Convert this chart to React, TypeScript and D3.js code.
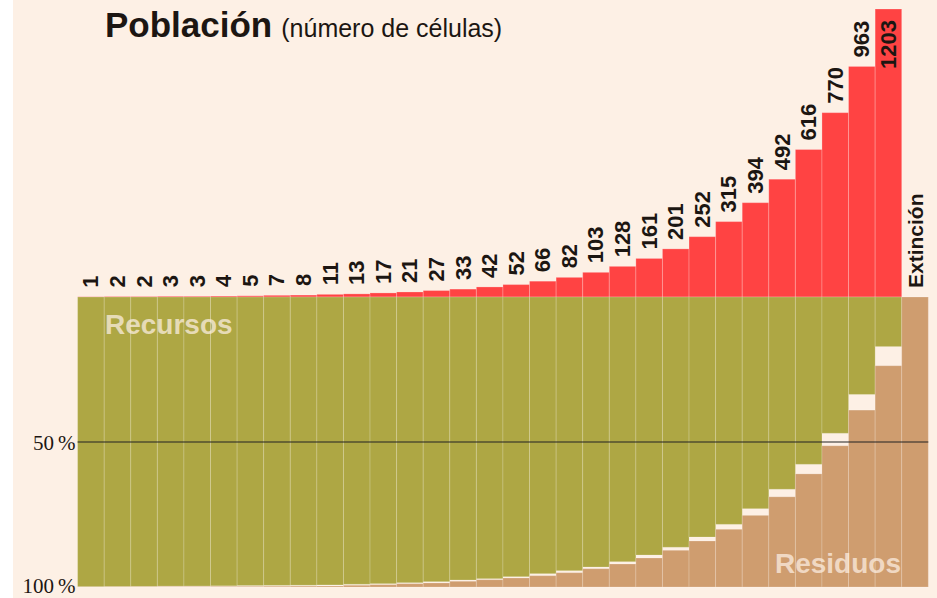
import React, { useEffect, useRef } from 'react';
import * as d3 from 'd3';

// population (number of cells) per step; last column is extinction
const population = [1, 2, 2, 3, 3, 4, 5, 7, 8, 11, 13, 17, 21, 27, 33, 42, 52, 66, 82, 103, 128, 161, 201, 252, 315, 394, 492, 616, 770, 963, 1203];
const extinctionLabel = 'Extinción';

// % of the medium still resources (from the top) and already residues (from the bottom)
const resources = [99.9, 99.85, 99.8, 99.7, 99.65, 99.6, 99.5, 99.45, 99.4, 99.3, 99.07, 98.86, 98.52, 98.17, 97.59, 97.14, 96.45, 95.41, 94.38, 93.1, 91.28, 88.97, 86.3, 82.76, 78.4, 73.0, 66.3, 57.7, 47.0, 33.6, 17.1, 0];
const residues = [0.05, 0.08, 0.1, 0.12, 0.15, 0.18, 0.2, 0.25, 0.3, 0.34, 0.59, 0.8, 1.14, 1.38, 1.97, 2.52, 3.1, 3.9, 4.93, 6.3, 7.93, 10.0, 12.66, 15.86, 19.9, 24.7, 31.1, 39.0, 48.7, 61.0, 76.3, 100];

const pctTicks = [50, 100];

export default function App() {
    const ref = useRef<SVGSVGElement>(null);

    const width = 937;
    const height = 598;
    const left = 77.6;
    const right = 928.3;
    const baseY = 297;
    const bottomY = 587;

    const bg = '#fdf0e5';
    const red = '#ff4343';
    const olive = '#aea744';
    const tan = '#cf9d6f';
    const ink = '#1c1612';
    const sans = '"Liberation Sans", Arial, sans-serif';
    const serif = '"Liberation Serif", "Times New Roman", serif';

    useEffect(() => {
        document.body.style.margin = '0';
        const svg = d3.select(ref.current);
        svg.selectAll('*').remove();

        const n = resources.length;
        const x = d3.scaleBand<number>()
            .domain(d3.range(n))
            .range([left, right])
            .padding(0);
        const yPop = d3.scaleLinear()
            .domain([0, d3.max(population) as number])
            .range([baseY, 9]);
        const yPct = d3.scaleLinear()
            .domain([0, 100])
            .range([baseY, bottomY]);

        svg.append('rect')
            .attr('x', 13).attr('y', 0)
            .attr('width', width - 13).attr('height', height)
            .attr('fill', bg);

        // population bars
        svg.append('g').selectAll('rect')
            .data(population)
            .enter().append('rect')
            .attr('x', (d, i) => x(i) as number)
            .attr('y', d => yPop(d))
            .attr('width', x.bandwidth())
            .attr('height', d => baseY - yPop(d))
            .attr('fill', red)
            .attr('stroke', 'rgba(255,255,255,0.22)')
            .attr('stroke-width', 1);

        // resources, from the top of the lower panel
        svg.append('g').selectAll('rect')
            .data(resources)
            .enter().append('rect')
            .attr('x', (d, i) => x(i) as number)
            .attr('y', baseY)
            .attr('width', x.bandwidth())
            .attr('height', d => yPct(d) - baseY)
            .attr('fill', olive)
            .attr('stroke', 'rgba(255,255,255,0.18)')
            .attr('stroke-width', 1);

        // residues, from the bottom
        svg.append('g').selectAll('rect')
            .data(residues)
            .enter().append('rect')
            .attr('x', (d, i) => x(i) as number)
            .attr('y', d => bottomY - (yPct(d) - baseY))
            .attr('width', x.bandwidth())
            .attr('height', d => yPct(d) - baseY)
            .attr('fill', tan)
            .attr('stroke', 'rgba(255,255,255,0.18)')
            .attr('stroke-width', 1);

        // 50% line
        svg.append('line')
            .attr('x1', left).attr('x2', right)
            .attr('y1', yPct(50)).attr('y2', yPct(50))
            .attr('stroke', '#222')
            .attr('stroke-width', 1.1);

        // percent labels
        svg.append('g').selectAll('text')
            .data(pctTicks)
            .enter().append('text')
            .attr('x', left - 2)
            .attr('y', d => Math.min(yPct(d) + 8, 593))
            .attr('text-anchor', 'end')
            .attr('font-family', serif)
            .attr('font-size', 21)
            .attr('fill', ink)
            .text(d => d + '\u2009%');

        // value labels over the bars
        const labels = svg.append('g');
        population.forEach((d, i) => {
            const cx = (x(i) as number) + x.bandwidth() / 2;
            const t = labels.append('text')
                .attr('font-family', sans)
                .attr('font-weight', 'bold')
                .attr('font-size', 22)
                .attr('fill', ink)
                .attr('dominant-baseline', 'central')
                .text(String(d));
            const len = (t.node() as SVGTextElement).getComputedTextLength();
            let start = yPop(d) - 9;
            if (start - len < 6) start = yPop(d) + 11 + len;
            t.attr('transform', 'translate(' + cx + ',' + start + ') rotate(-90)');
        });
        labels.append('text')
            .attr('font-family', sans)
            .attr('font-weight', 'bold')
            .attr('font-size', 21)
            .attr('fill', ink)
            .attr('dominant-baseline', 'central')
            .attr('transform', 'translate(' + ((x(n - 1) as number) + x.bandwidth() / 2) + ',' + (baseY - 9) + ') rotate(-90)')
            .text(extinctionLabel);

        // title
        const title = svg.append('text')
            .attr('x', 105)
            .attr('y', 37)
            .attr('font-family', sans)
            .attr('fill', ink);
        title.append('tspan')
            .attr('font-size', 35)
            .attr('font-weight', 'bold')
            .text('Población');
        title.append('tspan')
            .attr('font-size', 25)
            .attr('dx', 9)
            .text('(número de células)');

        // panel names
        svg.append('text')
            .attr('x', 105)
            .attr('y', 334)
            .attr('font-family', sans)
            .attr('font-weight', 'bold')
            .attr('font-size', 28)
            .attr('fill', bg)
            .attr('fill-opacity', 0.72)
            .text('Recursos');
        svg.append('text')
            .attr('x', 901)
            .attr('y', 573)
            .attr('text-anchor', 'end')
            .attr('font-family', sans)
            .attr('font-weight', 'bold')
            .attr('font-size', 28)
            .attr('fill', bg)
            .attr('fill-opacity', 0.72)
            .text('Residuos');
    }, []);

    return (
        <svg ref={ref} width={width} height={height} style={{ display: 'block', background: '#fff' }}></svg>
    );
}
